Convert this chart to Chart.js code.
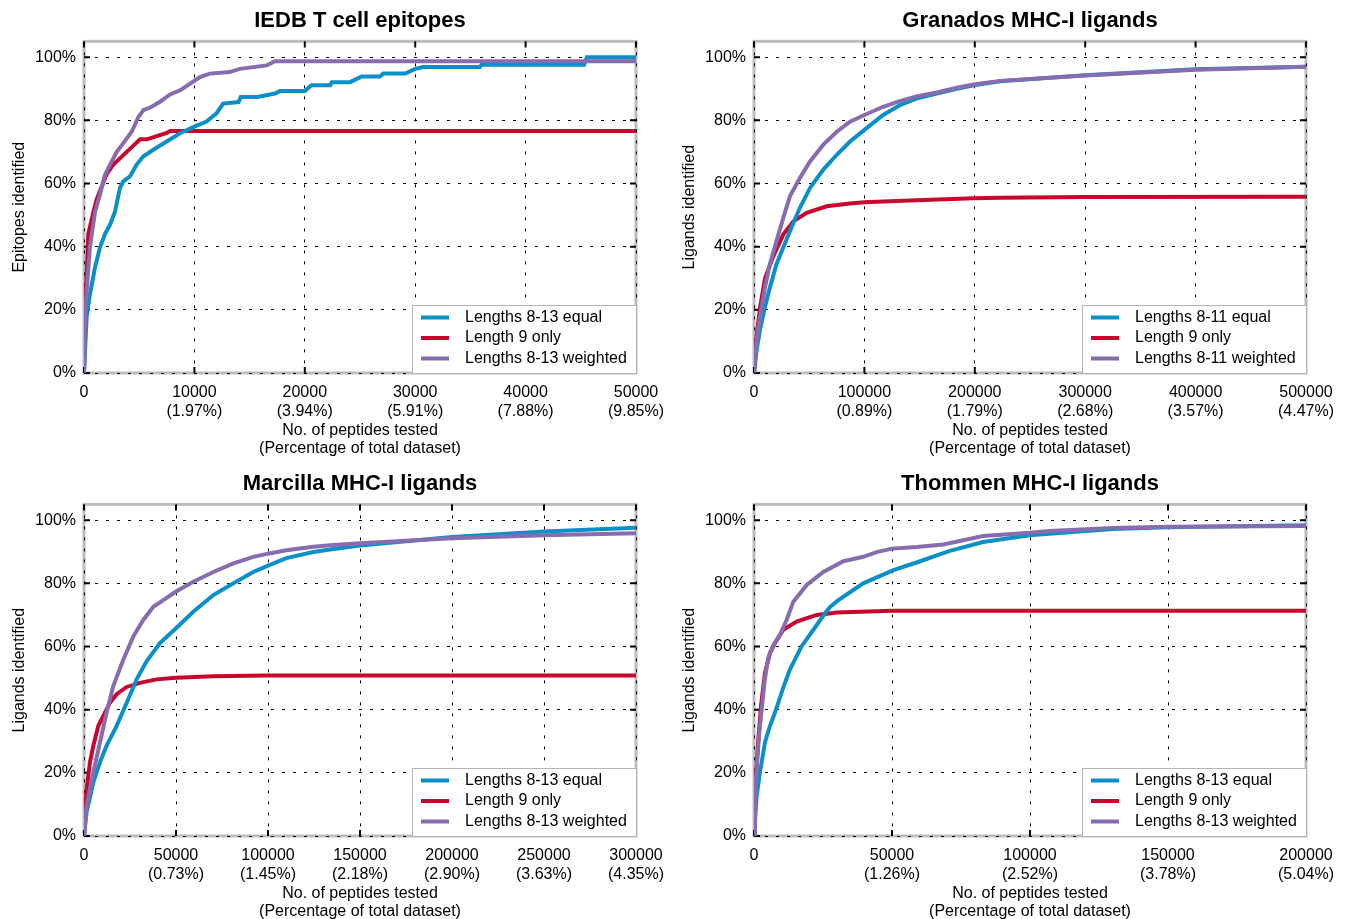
<!DOCTYPE html>
<html>
<head>
<meta charset="utf-8">
<script src="https://cdn.jsdelivr.net/npm/chart.js@4.4.0/dist/chart.umd.min.js"></script>
<style>
  body { margin: 0; background: #fff; overflow: hidden; }
  canvas { position: absolute; }
</style>
</head>
<body>
<canvas id="iedb" width="670" height="460" style="left:0;top:0"></canvas>
<canvas id="granados" width="670" height="460" style="left:670px;top:0"></canvas>
<canvas id="marcilla" width="670" height="460" style="left:0;top:463px"></canvas>
<canvas id="thommen" width="670" height="460" style="left:670px;top:463px"></canvas>

<script>
// ---- shared ----
const labels13 = ['Lengths 8-13 equal', 'Length 9 only', 'Lengths 8-13 weighted'];
const labels11 = ['Lengths 8-11 equal', 'Length 9 only', 'Lengths 8-11 weighted'];
const yTicks = [0, 20, 40, 60, 80, 100];

// ---- IEDB T cell epitopes ----
const iedbXTicks = [0, 10000, 20000, 30000, 40000, 50000];
const iedbXLabels = ['0', ['10000', '(1.97%)'], ['20000', '(3.94%)'], ['30000', '(5.91%)'], ['40000', '(7.88%)'], ['50000', '(9.85%)']];
const iedbEqual = [[0,0],[240,17.8],[540,25],[1000,33.5],[1450,39.8],[1900,44],[2360,47],[2800,51],[3260,58.6],[3560,60.7],
  [4170,62.3],[4770,66],[5380,68.6],[6280,70.7],[7490,73.3],[8700,75.9],[10000,78],[11100,79.6],[12000,82.2],[12600,85.3],
  [14000,85.8],[14200,87.4],[15700,87.4],[17300,88.5],[17750,89.3],[20000,89.3],[20600,91.1],[22300,91.1],[22450,92.1],
  [24100,92.1],[25150,93.9],[26800,93.9],[27100,94.8],[29100,94.8],[30000,96.3],[30700,96.9],[35870,96.9],[36000,97.6],
  [45300,97.6],[45550,100],[50000,100]];
const iedbNine = [[0,0],[120,20],[240,31],[390,44],[850,51],[1150,55],[1600,59],[2050,63],[2650,66],[3560,69],[4470,72],
  [5080,74],[5700,74],[6590,75],[7500,76],[7800,76.6],[50000,76.6]];
const iedbWeighted = [[0,0],[100,18],[240,26],[540,40],[1000,51],[1450,56.5],[1900,62.8],[2360,66],[2960,70],[3560,72.8],
  [4320,76.4],[4920,81],[5380,83.2],[6130,84.3],[6890,85.9],[7800,88.2],[8700,89.5],[9600,91.6],[10500,93.7],[11400,94.8],
  [13200,95.3],[14100,96.3],[16550,97.4],[17300,98.7],[50000,98.7]];

// ---- Granados MHC-I ligands ----
const granXTicks = [0, 100000, 200000, 300000, 400000, 500000];
const granXLabels = ['0', ['100000', '(0.89%)'], ['200000', '(1.79%)'], ['300000', '(2.68%)'], ['400000', '(3.57%)'], ['500000', '(4.47%)']];
const granEqual = [[0,0],[2400,7.3],[5400,13.6],[10000,21],[14500,27.2],[20500,34.6],[26600,39.8],[32600,45],[41700,52.4],
  [50750,58.6],[62800,64.4],[75000,69.1],[87000,73.3],[100000,77],[117000,81.7],[132000,84.8],[147000,86.9],[165500,88.5],
  [183700,90],[199000,91.1],[223000,92.4],[300000,94.3],[400000,96.2],[500000,97]];
const granNine = [[0,0],[2400,12],[5400,20.5],[10000,30],[17500,37],[26600,43.9],[35600,48],[47700,50.7],[65800,52.8],
  [87000,53.7],[100000,54.1],[147000,54.7],[199000,55.3],[223000,55.5],[300000,55.7],[500000,55.8]];
const granWeighted = [[0,0],[2400,10.5],[5400,17.8],[10000,27.2],[14500,34.6],[20500,41.9],[26600,49.2],[32600,56],
  [41700,61.8],[50750,67],[62800,72.3],[75000,76.4],[87000,79.6],[100000,81.7],[117000,84.3],[132000,86.1],[147000,87.6],
  [165500,88.8],[183700,90.3],[199000,91.4],[223000,92.5],[300000,94.2],[400000,96],[500000,97]];

// ---- Marcilla MHC-I ligands ----
const marcXTicks = [0, 50000, 100000, 150000, 200000, 250000, 300000];
const marcXLabels = ['0', ['50000', '(0.73%)'], ['100000', '(1.45%)'], ['150000', '(2.18%)'], ['200000', '(2.90%)'], ['250000', '(3.63%)'], ['300000', '(4.35%)']];
const marcEqual = [[0,0],[1450,7.7],[5070,17],[8700,23.4],[12300,28.6],[17750,34.9],[23200,42.2],[28600,49.6],[34000,55.3],
  [41300,61.1],[50000,65.8],[59400,71],[70300,76.3],[81200,80],[92000,83.6],[100000,85.6],[110000,88],[124600,89.9],
  [133700,90.7],[150000,92],[200000,94.7],[250000,96.4],[300000,97.6]];
const marcNine = [[0,0],[1450,15],[3260,23.4],[5070,28.6],[7790,34.9],[10500,38],[14100,42.2],[17750,44.9],[23200,47.2],
  [30400,48.5],[39500,49.6],[50000,50.1],[70300,50.6],[99300,50.8],[300000,50.8]];
const marcWeighted = [[0,0],[1450,9.7],[5070,20.2],[8700,29.7],[12300,39.1],[15900,47.5],[21400,55.9],[26800,63.2],
  [32200,68.4],[37700,72.6],[43100,74.7],[50000,77.4],[59400,80.5],[70300,83.6],[81200,86.3],[92000,88.4],[100000,89.4],
  [110000,90.5],[124600,91.6],[133700,92.1],[150000,92.7],[200000,94.3],[250000,95.2],[300000,95.9]];

// ---- Thommen MHC-I ligands ----
const thomXTicks = [0, 50000, 100000, 150000, 200000];
const thomXLabels = ['0', ['50000', '(1.26%)'], ['100000', '(2.52%)'], ['150000', '(3.78%)'], ['200000', '(5.04%)']];
const thomEqual = [[0,0],[970,12.9],[2170,20.2],[3985,29.7],[5800,34.9],[7600,39.1],[10600,47],[13000,52.7],[17270,60.1],
  [21500,65.3],[25700,70.5],[27500,72.5],[30560,74.7],[39600,80],[50500,84.2],[58900,86.6],[68600,89.6],[71000,90.3],
  [83000,93.1],[100000,95.2],[107000,95.7],[130000,97.2],[150000,97.8],[200000,98.4]];
const thomNine = [[0,0],[970,22.3],[1570,30.7],[2540,41.2],[3990,51.7],[5800,58],[7600,61.1],[10600,65.3],[15460,67.9],
  [22700,70],[30000,70.8],[50000,71.3],[200000,71.3]];
const thomWeighted = [[0,0],[360,11.8],[1200,24.4],[1930,32.8],[2770,40],[3985,50],[5190,56.5],[7000,60.4],[9420,63.7],
  [11800,68.4],[14250,74.2],[19100,79.5],[25100,83.6],[32400,87],[39600,88.4],[44400,89.9],[50000,91],[58900,91.5],
  [68600,92.3],[83000,95],[100000,96],[107000,96.6],[130000,97.5],[150000,97.9],[200000,98.2]];

const colors = ['#0a90c8', '#c8062e', '#876cb0'];
const FONT = '"Liberation Sans", Arial, Helvetica, sans-serif';

Chart.defaults.font.family = FONT;
Chart.defaults.font.size = 16;
Chart.defaults.color = '#000';

// gray frame + inward tick marks (drawn before the grid so the dots sit on top)
const framePlugin = {
  id: 'frame',
  beforeDraw(chart) {
    const {ctx, chartArea: a, scales} = chart;
    ctx.save();
    ctx.strokeStyle = '#bdbdbd';
    ctx.lineWidth = 3;
    ctx.strokeRect(a.left, a.top, a.right - a.left, a.bottom - a.top);
    ctx.strokeStyle = '#000';
    ctx.lineWidth = 2;
    ctx.beginPath();
    scales.x.ticks.forEach(t => {
      const px = scales.x.getPixelForValue(t.value);
      ctx.moveTo(px, a.bottom); ctx.lineTo(px, a.bottom - 6);
      ctx.moveTo(px, a.top); ctx.lineTo(px, a.top + 6);
    });
    scales.y.ticks.forEach(t => {
      const py = scales.y.getPixelForValue(t.value);
      ctx.moveTo(a.left, py); ctx.lineTo(a.left + 6, py);
      ctx.moveTo(a.right, py); ctx.lineTo(a.right - 6, py);
    });
    ctx.stroke();
    ctx.restore();
  }
};

// boxed legend in the lower right corner of the plot
const boxLegend = {
  id: 'boxLegend',
  afterDatasetsDraw(chart) {
    const {ctx, chartArea: a} = chart;
    const w = 224, h = 68;
    const x0 = a.right - w, y0 = a.bottom - h;
    ctx.save();
    ctx.fillStyle = '#fff';
    ctx.fillRect(x0, y0, w, h);
    ctx.strokeStyle = '#b4b4b4';
    ctx.lineWidth = 1;
    ctx.strokeRect(x0 + 0.5, y0 + 0.5, w, h);
    ctx.font = '16px ' + FONT;
    ctx.textBaseline = 'middle';
    chart.data.datasets.forEach((ds, i) => {
      const y = y0 + 12.5 + i * 20.5;
      ctx.strokeStyle = ds.borderColor;
      ctx.lineWidth = 4;
      ctx.beginPath();
      ctx.moveTo(x0 + 9, y);
      ctx.lineTo(x0 + 37, y);
      ctx.stroke();
      ctx.fillStyle = '#000';
      ctx.fillText(ds.label, x0 + 53, y);
    });
    ctx.restore();
  }
};

function drawPanel(id, title, yTitle, xMax, xTicks, xLabels, names, series) {
  const datasets = series.map((pts, i) => ({
    label: names[i],
    data: pts.map(p => ({x: p[0], y: p[1]})),
    borderColor: colors[i],
    backgroundColor: colors[i],
    borderWidth: 4,
    pointRadius: 0,
    fill: false,
    tension: 0,
    order: i === 2 ? 0 : i + 1
  }));

  new Chart(document.getElementById(id).getContext('2d'), {
    type: 'line',
    data: {datasets: datasets},
    plugins: [framePlugin, boxLegend],
    options: {
      responsive: false,
      animation: false,
      devicePixelRatio: 1,
      layout: {padding: {left: 0, right: 34, top: 0, bottom: 0}},
      plugins: {
        legend: {display: false},
        tooltip: {enabled: false},
        title: {
          display: true,
          text: title,
          fullSize: false,
          color: '#000',
          font: {size: 22, weight: 'bold'},
          padding: {top: 8, bottom: 7}
        }
      },
      scales: {
        x: {
          type: 'linear',
          min: 0,
          max: xMax,
          afterBuildTicks: s => { s.ticks = xTicks.map(v => ({value: v})); },
          afterFit: s => { s.height = 87; },
          // invisible tick marks push the labels down without widening the side padding
          grid: {color: '#000', lineWidth: 1, drawTicks: true, tickLength: 10, tickColor: 'rgba(0,0,0,0)'},
          border: {display: false, dash: [3, 8]},
          ticks: {
            autoSkip: false,
            maxRotation: 0,
            padding: 0,
            font: {size: 16, lineHeight: 1.2},
            callback: (v, i) => xLabels[i]
          },
          title: {
            display: true,
            text: ['No. of peptides tested', '(Percentage of total dataset)'],
            font: {size: 16, lineHeight: 1.15},
            padding: {top: 0, bottom: 2}
          }
        },
        y: {
          min: 0,
          max: 105,
          afterBuildTicks: s => { s.ticks = yTicks.map(v => ({value: v})); },
          afterFit: s => { s.width = 84; },
          grid: {color: '#000', lineWidth: 1, drawTicks: false},
          border: {display: false, dash: [3, 8]},
          ticks: {
            padding: 8,
            font: {size: 16},
            callback: v => v + '%'
          },
          title: {
            display: true,
            text: yTitle,
            font: {size: 16, lineHeight: 1.2},
            padding: {top: 10, bottom: 0}
          }
        }
      }
    }
  });
}

drawPanel('iedb', 'IEDB T cell epitopes', 'Epitopes identified', 50000, iedbXTicks, iedbXLabels, labels13,
  [iedbEqual, iedbNine, iedbWeighted]);
drawPanel('granados', 'Granados MHC-I ligands', 'Ligands identified', 500000, granXTicks, granXLabels, labels11,
  [granEqual, granNine, granWeighted]);
drawPanel('marcilla', 'Marcilla MHC-I ligands', 'Ligands identified', 300000, marcXTicks, marcXLabels, labels13,
  [marcEqual, marcNine, marcWeighted]);
drawPanel('thommen', 'Thommen MHC-I ligands', 'Ligands identified', 200000, thomXTicks, thomXLabels, labels13,
  [thomEqual, thomNine, thomWeighted]);
</script>
</body>
</html>
